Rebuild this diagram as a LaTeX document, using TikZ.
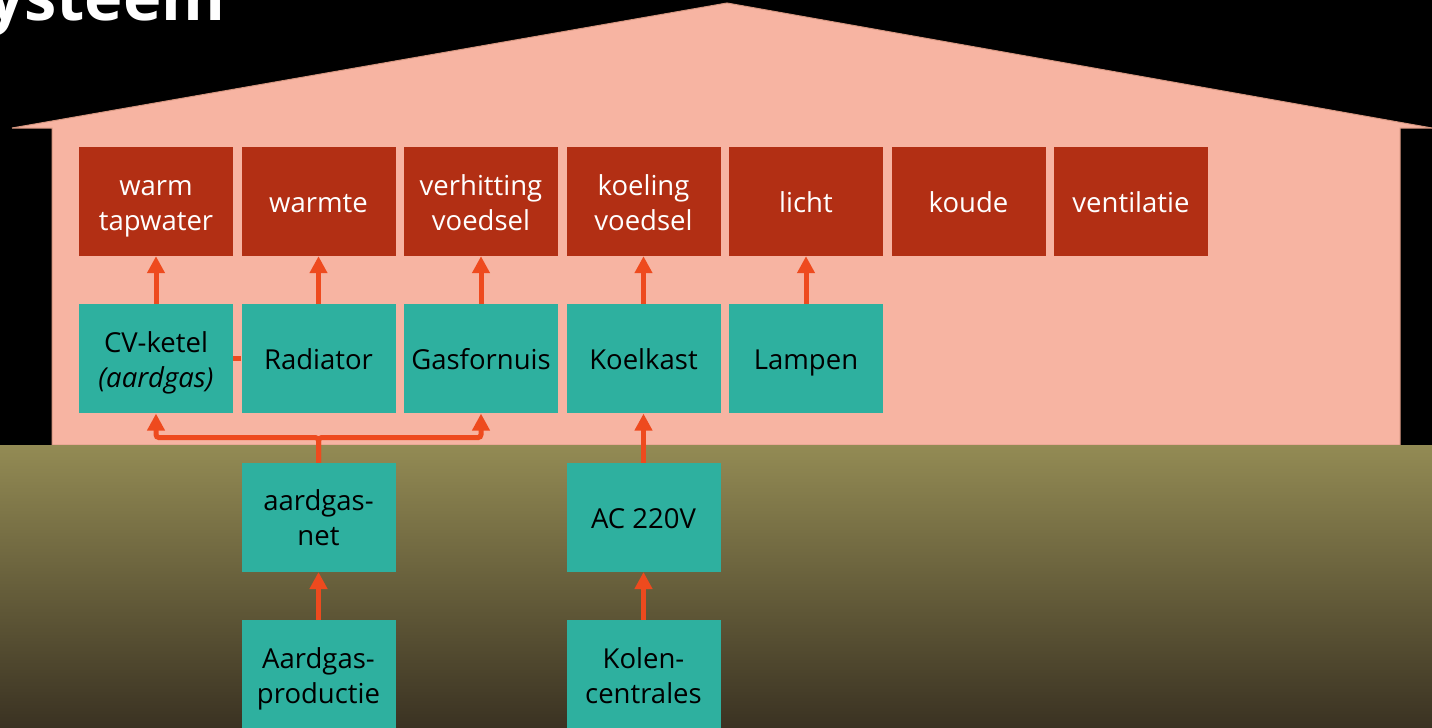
\documentclass[tikz,border=0pt]{standalone}
\usepackage{fontspec}
\setmainfont{Open Sans}
\usepackage{xcolor}
\definecolor{housepink}{RGB}{247,180,162}
\definecolor{houseline}{RGB}{214,150,128}
\definecolor{userred}{RGB}{178,47,20}
\definecolor{teal}{RGB}{46,176,159}
\definecolor{flowred}{RGB}{238,74,30}
\definecolor{groundtop}{RGB}{147,139,84}
\definecolor{groundmid}{RGB}{120,110,70}
\definecolor{groundbot}{RGB}{58,50,34}
\usepackage{tikz}
\usetikzlibrary{positioning, arrows.meta}

\begin{document}
\begin{tikzpicture}
[x=1pt, y=1pt,
 >={Triangle[width=17pt,length=17pt]},
 node distance=8.1pt,
 box/.style={minimum width=154pt, minimum height=109pt, inner sep=0pt,
 align=center, font=\fontsize{27.5}{35}\selectfont,
 text height=30pt, text depth=8pt},
 twoline/.style={text height=65pt},
 use/.style={box, fill=userred, text=white},
 device/.style={box, fill=teal, text=black},
 flow/.style={->, line width=5pt, color=flowred},
]

\useasboundingbox (0,0) rectangle (1432,-728);
\fill[black] (0,0) rectangle (1432,-728);
\fill[housepink, draw=houseline, line width=1pt]
 (12,-128) -- (727,-3) -- (1432,-128) -- (1400,-128) -- (1400,-445)
 -- (52,-445) -- (52,-128) -- cycle;
\shade[top color=groundtop, middle color=groundmid, bottom color=groundbot]
 (0,-445) rectangle (1432,-728);

\node[anchor=base west, text=white, inner sep=0pt,
 font=\fontsize{65}{65}\selectfont\bfseries] (title) at (-13,-20) {ysteem};

\node[use, twoline] (tap) at (156,-201.5) {warm\\tapwater};
\node[use, right=of tap] (heat) {warmte};
\node[use, twoline, right=of heat] (cook) {verhitting\\voedsel};
\node[use, twoline, right=of cook] (cool) {koeling\\voedsel};
\node[use, right=of cool] (light) {licht};
\node[use, right=of light] (cold) {koude};
\node[use, right=of cold] (vent) {ventilatie};

\node[device, twoline, below=48pt of tap] (cv) {CV-ketel\\\textit{(aardgas)}};
\node[device, right=of cv] (rad) {Radiator};
\node[device, right=of rad] (gas) {Gasfornuis};
\node[device, right=of gas] (fridge) {Koelkast};
\node[device, right=of fridge] (lamp) {Lampen};

\node[device, twoline, below=49pt of rad] (net) {aardgas-\\net};
\node[device, twoline, below=48pt of net] (prod) {Aardgas-\\productie};
\node[device, below=49pt of fridge] (ac) {AC 220V};
\node[device, twoline, below=48pt of ac] (coal) {Kolen-\\centrales};

\draw[flow]
(cv)     edge (tap)
(rad)    edge (heat)
(gas)    edge (cook)
(fridge) edge (cool)
(lamp)   edge (light)
(ac)     edge (fridge)
(prod)   edge (net)
(coal)   edge (ac);

\draw[line width=5pt, flowred] (cv) -- (rad);
\draw[flow, rounded corners=3pt] (net.north) -- ++(0,25) -| (cv.south);
\draw[flow, rounded corners=3pt] (net.north) -- ++(0,25) -| (gas.south);
\end{tikzpicture}
\end{document}
